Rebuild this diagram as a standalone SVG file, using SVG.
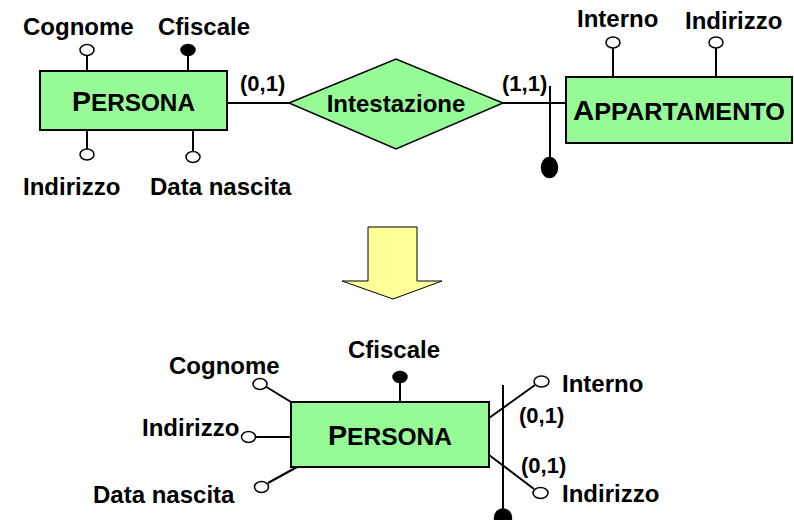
<svg xmlns="http://www.w3.org/2000/svg" width="794" height="520" viewBox="0 0 794 520">
<style>
text{font-family:"Liberation Sans",Arial,sans-serif;font-weight:bold;fill:#000}
.lbl{font-size:24px}
.card{font-size:22px}
.ent{fill:#96FA96;stroke:#000;stroke-width:2}
.rel{fill:#96FA96;stroke:#000;stroke-width:1.5}
.ln{stroke:#000;stroke-width:2;fill:none}
.ao{fill:#fff;stroke:#000;stroke-width:1.5}
.ak{fill:#000;stroke:#000;stroke-width:1.5}
.big{font-size:28px}
.sm{font-size:24px}
</style>
<g id="connectors">
<line class="ln" x1="87" y1="55.5" x2="87" y2="71"/>
<line class="ln" x1="188" y1="55.5" x2="188" y2="71"/>
<line class="ln" x1="87" y1="130" x2="87" y2="149"/>
<line class="ln" x1="193" y1="130" x2="193" y2="151.5"/>
<line class="ln" x1="227" y1="103" x2="289" y2="103"/>
<line class="ln" x1="503" y1="103" x2="566" y2="103"/>
<line class="ln" x1="550" y1="86" x2="550" y2="158"/>
<line class="ln" x1="613" y1="48" x2="613" y2="77"/>
<line class="ln" x1="716" y1="48" x2="716" y2="77"/>
<line class="ln" x1="400" y1="383" x2="400" y2="402"/>
<line class="ln" x1="266.5" y1="387" x2="291" y2="402"/>
<line class="ln" x1="255.5" y1="437" x2="291" y2="437"/>
<line class="ln" x1="268" y1="483" x2="297" y2="467"/>
<line class="ln" x1="503" y1="385" x2="503" y2="512"/>
<line class="ln" x1="489" y1="418" x2="535" y2="385"/>
<line class="ln" x1="489" y1="455" x2="534" y2="489"/>
</g>
<g id="persona-top">
<rect class="ent" x="40" y="71" width="187" height="59"/>
<text x="72" y="111" textLength="123" lengthAdjust="spacingAndGlyphs"><tspan class="big">P</tspan><tspan class="sm">ERSONA</tspan></text>
</g>
<g id="attr-cognome-top">
<ellipse class="ao" cx="87" cy="50" rx="7" ry="5.5"/>
<text class="lbl" x="23" y="35">Cognome</text>
</g>
<g id="attr-cfiscale-top">
<ellipse class="ak" cx="188" cy="50" rx="7" ry="5.5"/>
<text class="lbl" x="158" y="35">Cfiscale</text>
</g>
<g id="attr-indirizzo-top">
<ellipse class="ao" cx="87" cy="154.5" rx="7" ry="5.5"/>
<text class="lbl" x="23" y="195">Indirizzo</text>
</g>
<g id="attr-datanascita-top">
<ellipse class="ao" cx="193" cy="157" rx="7" ry="5.5"/>
<text class="lbl" x="150" y="195">Data nascita</text>
</g>
<g id="intestazione">
<polygon class="rel" points="289,103 396,59 503,103 396,149"/>
<text class="lbl" x="396" y="112" text-anchor="middle">Intestazione</text>
</g>
<g id="card-labels-top">
<text class="card" x="240" y="91">(0,1)</text>
<text class="card" x="502" y="91">(1,1)</text>
</g>
<g id="appartamento">
<rect class="ent" x="566" y="77" width="226" height="66"/>
<text x="573" y="120" textLength="212" lengthAdjust="spacingAndGlyphs"><tspan class="big">A</tspan><tspan class="sm">PPARTAMENTO</tspan></text>
</g>
<g id="attr-interno-top">
<ellipse class="ao" cx="613" cy="42.5" rx="7" ry="5.5"/>
<text class="lbl" x="577" y="27">Interno</text>
</g>
<g id="attr-indirizzo-app">
<ellipse class="ao" cx="716" cy="42.5" rx="7" ry="5.5"/>
<text class="lbl" x="685" y="29">Indirizzo</text>
</g>
<g id="id-ext">
<ellipse class="ak" cx="549.5" cy="167.5" rx="8" ry="10"/>
</g>
<g id="arrow">
<polygon points="368,227 417,227 417,281 442,281 393,299 342,281 368,281" fill="#FFFF99" stroke="#000" stroke-width="1"/>
</g>
<g id="persona-bottom">
<rect class="ent" x="291" y="402" width="198" height="65"/>
<text x="328" y="445" textLength="124" lengthAdjust="spacingAndGlyphs"><tspan class="big">P</tspan><tspan class="sm">ERSONA</tspan></text>
</g>
<g id="attr-cfiscale-bottom">
<ellipse class="ak" cx="400" cy="377" rx="7" ry="5.5"/>
<text class="lbl" x="348" y="358">Cfiscale</text>
</g>
<g id="attr-cognome-bottom">
<ellipse class="ao" cx="260" cy="384" rx="7" ry="5.5"/>
<text class="lbl" x="169" y="374">Cognome</text>
</g>
<g id="attr-indirizzo-bottom">
<ellipse class="ao" cx="248.5" cy="437" rx="7" ry="5.5"/>
<text class="lbl" x="142" y="436">Indirizzo</text>
</g>
<g id="attr-datanascita-bottom">
<ellipse class="ao" cx="261.5" cy="487" rx="7" ry="5.5"/>
<text class="lbl" x="93" y="503">Data nascita</text>
</g>
<g id="attr-interno-bottom">
<ellipse class="ao" cx="541.5" cy="381.5" rx="7.5" ry="5.5"/>
<text class="lbl" x="562" y="392">Interno</text>
</g>
<g id="attr-indirizzo-bottom2">
<ellipse class="ao" cx="540.5" cy="493" rx="7.5" ry="5.5"/>
<text class="lbl" x="562" y="502">Indirizzo</text>
</g>
<g id="card-labels-bottom">
<text class="card" x="519" y="423">(0,1)</text>
<text class="card" x="521" y="473">(0,1)</text>
</g>
<g id="id-bottom">
<ellipse class="ak" cx="503" cy="518" rx="8.5" ry="9"/>
</g>
</svg>
